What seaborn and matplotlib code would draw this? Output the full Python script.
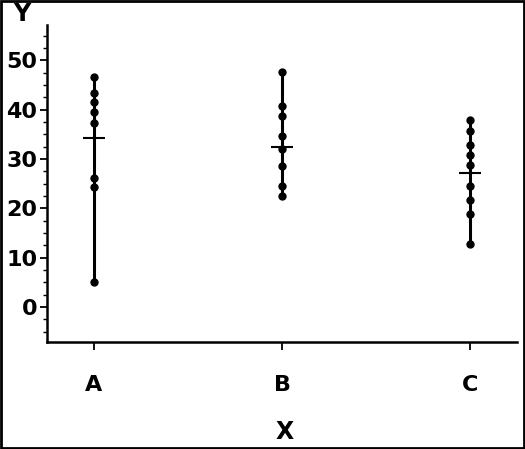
import numpy as np
import pandas as pd
import matplotlib.pyplot as plt
import matplotlib.patches as mpatches
from matplotlib.ticker import MultipleLocator
import seaborn as sns

# Valori
categories = ["A", "B", "C"]
values_a = [46.7, 43.4, 41.5, 39.5, 37.4, 26.2, 24.3, 5.1]
values_b = [47.7, 40.7, 38.8, 34.7, 32.1, 28.5, 24.5, 22.5]
values_c = [38.0, 35.8, 32.9, 30.9, 28.9, 24.6, 21.8, 18.8, 12.7]
means = [34.3, 32.4, 27.2]
y_ticks = [0, 10, 20, 30, 40, 50]

df = pd.DataFrame({
    "X": ["A"] * len(values_a) + ["B"] * len(values_b) + ["C"] * len(values_c),
    "Y": values_a + values_b + values_c,
})

sns.set_theme(style="ticks")
plt.rcParams["font.family"] = ["DejaVu Sans"]
plt.rcParams["font.weight"] = "bold"
plt.rcParams["text.color"] = "black"

fig = plt.figure(figsize=(5.25, 4.49), dpi=100)
ax = fig.add_axes([47 / 525, 1 - 342 / 449, (517 - 47) / 525, (342 - 25) / 449])

# linee min-max per ogni gruppo
pos = np.arange(len(categories))
mins = df.groupby("X")["Y"].min().reindex(categories).values
maxs = df.groupby("X")["Y"].max().reindex(categories).values
ax.vlines(pos, mins, maxs, color="black", linewidth=2.2, zorder=2)

sns.stripplot(data=df, x="X", y="Y", order=categories, jitter=False,
              color="black", size=6, linewidth=0, ax=ax, zorder=3)

# tacca della media
ax.scatter(pos, means, marker="_", s=230, color="black", linewidths=1.5, zorder=4)

ax.set_xlim(-0.25, 2.25)
ax.set_ylim(-7.1, 57.2)
ax.set_yticks(y_ticks)
ax.yaxis.set_minor_locator(MultipleLocator(2.5))
ax.set_xlabel("")
ax.set_ylabel("")

for side in ["top", "right"]:
    ax.spines[side].set_visible(False)
for side in ["left", "bottom"]:
    ax.spines[side].set_linewidth(1.8)
    ax.spines[side].set_color("black")

ax.tick_params(axis="y", which="major", length=5, width=1.3, pad=2,
               labelsize=16, colors="black")
ax.tick_params(axis="y", which="minor", length=3, width=1.0, colors="black")
ax.tick_params(axis="x", which="major", length=6, width=1.3, pad=18,
               labelsize=16, colors="black")
for lab in ax.get_xticklabels() + ax.get_yticklabels():
    lab.set_fontweight("bold")

fig.text(22 / 525, 1 - 14 / 449, "Y", fontsize=17, fontweight="bold",
         color="black", ha="center", va="center")
fig.text(285 / 525, 1 - 432 / 449, "X", fontsize=17, fontweight="bold",
         color="black", ha="center", va="center")

# cornice esterna
fig.patches.append(mpatches.Rectangle((0.002, 0.002), 0.996, 0.996,
                                      transform=fig.transFigure, fill=False,
                                      edgecolor="black", linewidth=2))

fig.savefig("out.png", dpi=100)
